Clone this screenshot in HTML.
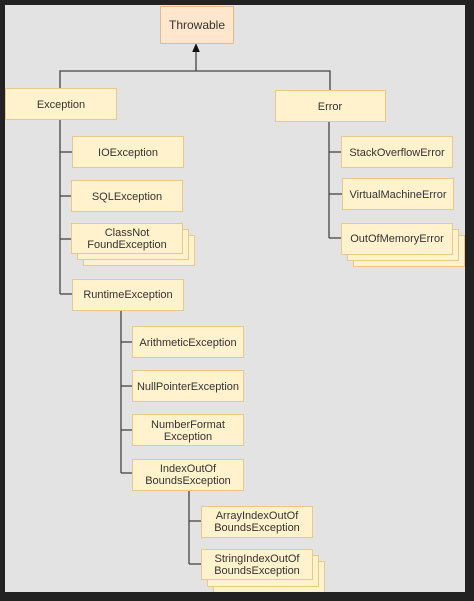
<!DOCTYPE html>
<html><head><meta charset="utf-8"><style>
html,body{margin:0;padding:0;background:#222;}
svg{display:block;}
text{font-family:"Liberation Sans",Arial,sans-serif;font-size:11px;fill:#333;}
</style></head><body>
<svg width="474" height="601" viewBox="0 0 474 601" xmlns="http://www.w3.org/2000/svg">
<rect x="0" y="0" width="474" height="601" fill="#222"/>
<rect x="5" y="5" width="460" height="587" fill="#e3e3e3"/>
<defs>
<marker id="ar" markerWidth="8" markerHeight="8" refX="4" refY="4" orient="auto"><path d="M0,1 L7,4 L0,7 z" fill="#111"/></marker>
</defs>
<g stroke="#444" stroke-width="1.3" fill="none">
<line x1="196" y1="71" x2="196" y2="47" marker-end="url(#ar)"/>
<polyline points="60,88 60,71 330,71 330,90"/>
<line x1="60" y1="119" x2="60" y2="294"/>
<line x1="60" y1="152" x2="72" y2="152"/>
<line x1="60" y1="196" x2="71" y2="196"/>
<line x1="60" y1="239" x2="71" y2="239"/>
<line x1="60" y1="294" x2="72" y2="294"/>
<line x1="329" y1="121" x2="329" y2="238"/>
<line x1="329" y1="152" x2="341" y2="152"/>
<line x1="329" y1="194" x2="342" y2="194"/>
<line x1="329" y1="238" x2="341" y2="238"/>
<line x1="121" y1="310" x2="121" y2="473"/>
<line x1="121" y1="342" x2="132" y2="342"/>
<line x1="121" y1="386" x2="132" y2="386"/>
<line x1="121" y1="430" x2="132" y2="430"/>
<line x1="121" y1="473" x2="132" y2="473"/>
<line x1="189" y1="490" x2="189" y2="564"/>
<line x1="189" y1="521" x2="201" y2="521"/>
<line x1="189" y1="564" x2="201" y2="564"/>
</g>
<g stroke="#e8c98a" stroke-width="1" fill="#fff2cc">
<rect x="160.5" y="6.5" width="73" height="37" fill="#ffe6cc" stroke="#e6b98a"/>
<rect x="5.5" y="88.5" width="111" height="31"/>
<rect x="275.5" y="90.5" width="110" height="31"/>
<rect x="72.5" y="136.5" width="111" height="31"/>
<rect x="71.5" y="180.5" width="111" height="31"/>
<rect x="83.5" y="235.5" width="111" height="30"/>
<rect x="77.5" y="229.5" width="111" height="30"/>
<rect x="71.5" y="223.5" width="111" height="30"/>
<rect x="72.5" y="279.5" width="111" height="31"/>
<rect x="341.5" y="136.5" width="111" height="31"/>
<rect x="342.5" y="178.5" width="111" height="31"/>
<rect x="353.5" y="235.5" width="111" height="31"/>
<rect x="347.5" y="229.5" width="111" height="31"/>
<rect x="341.5" y="223.5" width="111" height="31"/>
<rect x="132.5" y="326.5" width="111" height="31"/>
<rect x="132.5" y="370.5" width="111" height="31"/>
<rect x="132.5" y="414.5" width="111" height="31"/>
<rect x="132.5" y="459.5" width="111" height="31"/>
<rect x="201.5" y="506.5" width="111" height="31"/>
<rect x="213.5" y="561.5" width="111" height="31"/>
<rect x="207.5" y="555.5" width="111" height="31"/>
<rect x="201.5" y="549.5" width="111" height="30"/>
</g>
<rect x="0" y="592" width="474" height="9" fill="#222"/>
<rect x="465" y="0" width="9" height="601" fill="#222"/>
<g text-anchor="middle">
<text x="197" y="29" style="font-size:12px">Throwable</text>
<text x="61" y="108">Exception</text>
<text x="330" y="110">Error</text>
<text x="128" y="156">IOException</text>
<text x="127" y="200">SQLException</text>
<text x="127" y="236">ClassNot</text>
<text x="127" y="248">FoundException</text>
<text x="128" y="298">RuntimeException</text>
<text x="397" y="156">StackOverflowError</text>
<text x="398" y="198">VirtualMachineError</text>
<text x="397" y="242">OutOfMemoryError</text>
<text x="188" y="346">ArithmeticException</text>
<text x="188" y="390">NullPointerException</text>
<text x="188" y="428">NumberFormat</text>
<text x="188" y="440">Exception</text>
<text x="188" y="472">IndexOutOf</text>
<text x="188" y="484">BoundsException</text>
<text x="257" y="519">ArrayIndexOutOf</text>
<text x="257" y="531">BoundsException</text>
<text x="257" y="562">StringIndexOutOf</text>
<text x="257" y="574">BoundsException</text>
</g>
</svg>
</body></html>
